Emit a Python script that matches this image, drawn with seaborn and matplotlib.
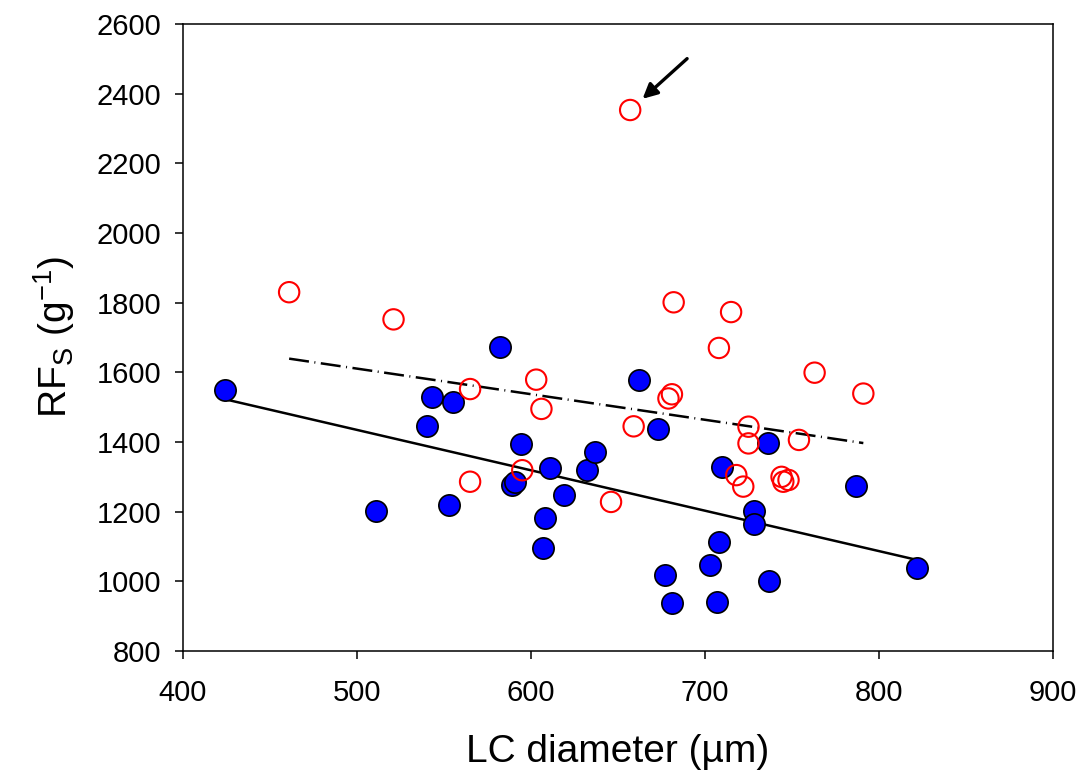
import numpy as np
import matplotlib
matplotlib.use("Agg")
import matplotlib.pyplot as plt
import seaborn as sns

# filled (blue) group
blue_x = [424, 511, 540, 543, 553, 555, 582, 589, 591, 594, 607, 608, 611, 619, 632,
          637, 662, 673, 677, 681, 703, 707, 708, 710, 728, 728, 736, 737, 787, 822]
blue_y = [1549, 1202, 1446, 1530, 1218, 1516, 1673, 1278, 1284, 1393, 1096, 1181, 1326, 1249, 1319,
          1372, 1577, 1436, 1018, 938, 1047, 942, 1112, 1329, 1202, 1166, 1398, 1001, 1273, 1037]

# open (red) group, outlier kept apart (not in the fit)
red_x = [461, 521, 565, 565, 603, 595, 606, 646, 659, 679, 681, 682,
         708, 715, 718, 722, 725, 725, 744, 748, 745, 754, 763, 791]
red_y = [1830, 1752, 1552, 1286, 1579, 1319, 1495, 1228, 1445, 1525, 1537, 1801,
         1670, 1773, 1305, 1272, 1444, 1396, 1300, 1291, 1286, 1406, 1599, 1539]
outlier_x = [657]
outlier_y = [2353]

x_ticks = [400, 500, 600, 700, 800, 900]
y_ticks = [800, 1000, 1200, 1400, 1600, 1800, 2000, 2200, 2400, 2600]

sns.set_style("ticks")
plt.rcParams["font.family"] = ["Liberation Sans", "DejaVu Sans"]
plt.rcParams["mathtext.default"] = "regular"
for k in ["text.color", "axes.labelcolor", "xtick.color", "ytick.color", "axes.edgecolor"]:
    plt.rcParams[k] = "black"

fig = plt.figure(figsize=(10.86, 7.78), dpi=100)
ax = fig.add_axes([0.1685, 0.1632, 0.8011, 0.806])

# regression lines
sns.regplot(x=np.array(blue_x), y=np.array(blue_y), ax=ax, scatter=False, ci=None,
            truncate=True, line_kws=dict(color="black", lw=1.8, zorder=1))
sns.regplot(x=np.array(red_x), y=np.array(red_y), ax=ax, scatter=False, ci=None,
            truncate=True, line_kws=dict(color="black", lw=1.8, zorder=1,
                                         dashes=(8, 2.2, 0.4, 2.2)))

sns.scatterplot(x=blue_x, y=blue_y, ax=ax, s=235, color="#0000ff",
                edgecolor="black", linewidth=1.2, zorder=3)
sns.scatterplot(x=red_x + outlier_x, y=red_y + outlier_y, ax=ax, s=215, marker="o",
                fc="none", ec="#ff0000", linewidth=1.5, zorder=4)

# arrow pointing at the outlier
ax.annotate("", xy=(outlier_x[0], outlier_y[0]), xycoords="data",
            xytext=(41, 37), textcoords="offset points",
            arrowprops=dict(arrowstyle="-|>", color="black", lw=2.4,
                            mutation_scale=22, shrinkA=0, shrinkB=12))

ax.set_xlim(400, 900)
ax.set_ylim(800, 2600)
ax.set_xticks(x_ticks)
ax.set_yticks(y_ticks)
ax.tick_params(direction="out", length=5.8, width=1.1, labelsize=21, pad=10)
ax.tick_params(axis="x", pad=14)
for sp in ax.spines.values():
    sp.set_visible(True)
    sp.set_linewidth(1.1)
    sp.set_color("black")

ax.set_xlabel("LC diameter (\u00b5m)", fontsize=28, labelpad=20)
ax.set_ylabel(r"RF$_{S}$ (g$^{-1}$)", fontsize=28, labelpad=14)

fig.savefig("out.png", dpi=100)
